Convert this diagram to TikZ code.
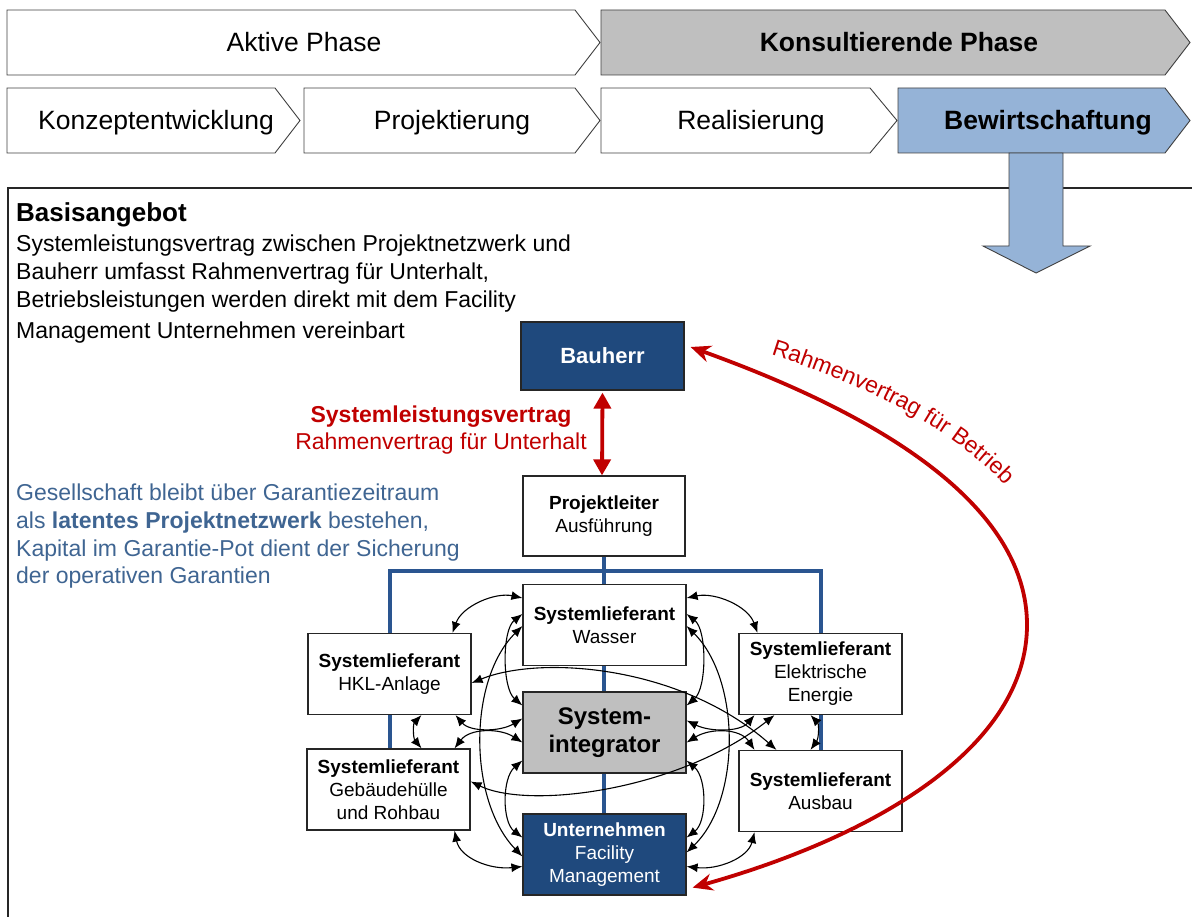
\documentclass[tikz,border=0pt]{standalone}
\usepackage{fontspec}
\setmainfont{Liberation Sans}
\usetikzlibrary{arrows.meta,calc,decorations.text}

\definecolor{darkblue}{HTML}{1F497D}
\definecolor{lineblue}{HTML}{2A5590}
\definecolor{lightblue}{HTML}{95B3D7}
\definecolor{midgrey}{HTML}{BFBFBF}
\definecolor{darkred}{HTML}{C00000}
\definecolor{noteblue}{HTML}{3F6592}
\definecolor{edge}{HTML}{404040}

\begin{document}
\begin{tikzpicture}[x=1pt,y=-1pt,
  chev/.style={draw=edge, line width=0.9pt, fill=white},
  chevtext/.style={anchor=base, inner sep=0pt, font=\fontsize{26.5}{30}\selectfont},
  chevbold/.style={chevtext, font=\fontsize{26.5}{30}\selectfont\bfseries},
  box/.style={draw=black!85, line width=1.2pt, fill=white, minimum width=163pt,
    minimum height=81pt, inner sep=0pt, align=center,
    font=\fontsize{19}{23}\selectfont},
  darkbox/.style={box, fill=darkblue, text=white},
  con/.style={{Latex[length=11pt,width=9pt]}-{Latex[length=11pt,width=9pt]},
    line width=1.1pt, black},
  redcon/.style={line width=3.8pt, darkred},
  net/.style={lineblue, line width=3.5pt},
  bodytext/.style={anchor=base west, inner sep=0pt,
    font=\fontsize{23}{28}\selectfont},
  notetext/.style={bodytext, text=noteblue}]
\useasboundingbox (0,0) rectangle (1192,917);

% phase chevrons, upper row
\draw[chev] (7,10) -- (575,10) -- (600,42.5) -- (575,75) -- (7,75) -- cycle;
\node[chevtext] (aktiv) at (304,52) {Aktive Phase};
\draw[chev, fill=midgrey] (601,10) -- (1165,10) -- (1190,42.5) -- (1165,75) -- (601,75) -- cycle;
\node[chevbold] (konsult) at (899,52) {Konsultierende Phase};

% phase chevrons, lower row
\draw[chev] (7,88) -- (275,88) -- (300,120.5) -- (275,153) -- (7,153) -- cycle;
\node[chevtext] (konzept) at (156,130) {Konzeptentwicklung};
\draw[chev] (304,88) -- (575,88) -- (600,120.5) -- (575,153) -- (304,153) -- cycle;
\node[chevtext] (projekt) at (452,130) {Projektierung};
\draw[chev] (601,88) -- (870,88) -- (897,120.5) -- (870,153) -- (601,153) -- cycle;
\node[chevtext] (real) at (751,130) {Realisierung};
\draw[chev, fill=lightblue] (898,88) -- (1165,88) -- (1190,120.5) -- (1165,153) -- (898,153) -- cycle;
\node[chevbold] (bewirt) at (1048,130) {Bewirtschaftung};

% frame of the lower panel
\draw[line width=1.2pt, black!85] (1200,188) -- (8,188) -- (8,930);

% block arrow out of the operating phase
\draw[fill=lightblue, draw=edge, line width=0.9pt]
  (1009,153) -- (1009,246) -- (983,246) -- (1036,273) -- (1090,246)
  -- (1063,246) -- (1063,153) -- cycle;

% explanatory texts
\node[bodytext, font=\fontsize{26}{30}\selectfont\bfseries] (head) at (16,222) {Basisangebot};
\node[bodytext] (l1) at (16,252) {Systemleistungsvertrag zwischen Projektnetzwerk und};
\node[bodytext] (l2) at (16,280) {Bauherr umfasst Rahmenvertrag für Unterhalt,};
\node[bodytext] (l3) at (16,308) {Betriebsleistungen werden direkt mit dem Facility};
\node[bodytext] (l4) at (16,339) {Management Unternehmen vereinbart};

\node[notetext] (n1) at (16,500) {Gesellschaft bleibt über Garantiezeitraum};
\node[notetext] (n2) at (16,528) {als \textbf{latentes Projektnetzwerk} bestehen,};
\node[notetext] (n3) at (16,556) {Kapital im Garantie-Pot dient der Sicherung};
\node[notetext] (n4) at (16,583) {der operativen Garantien};

% organisation network: connecting bus
\coordinate (busL) at (390,571);
\coordinate (busR) at (821,571);
\node[darkbox, minimum width=163pt, minimum height=68pt,
  font=\fontsize{22}{26}\selectfont\bfseries] (bau) at (602.5,356) {Bauherr};
\node[box, minimum width=162pt, minimum height=80pt] (pl) at (604,516)
  {\textbf{Projektleiter}\\Ausführung};

\draw[net] (pl.south) -- (604,814);
\draw[net] (390,790) -- (busL) -- (busR) -- (821,790);

\node[box] (was) at (604.5,625) {\textbf{Systemlieferant}\\Wasser};
\node[box, fill=midgrey, font=\fontsize{24}{28}\selectfont\bfseries] (sint) at (604.5,732.5) {System-\\integrator};
\node[darkbox] (fm) at (604.5,854.5) {\textbf{Unternehmen}\\Facility\\Management};
\node[box] (hkl) at (389.5,674) {\textbf{Systemlieferant}\\HKL-Anlage};
\node[box] (geb) at (388.5,789.5) {\textbf{Systemlieferant}\\Gebäudehülle\\und Rohbau};
\node[box] (ele) at (820.5,674) {\textbf{Systemlieferant}\\Elektrische\\Energie};
\node[box] (aus) at (820.5,791) {\textbf{Systemlieferant}\\Ausbau};

% links on the left side
\draw[con] ($(hkl.north)+(63,0)$) .. controls (462,606) and (495,592) .. ($(was.west)+(0,-27)$);
\draw[con] ($(was.west)+(0,-11)$) .. controls (502,630) and (502,688) .. ($(sint.west)+(0,-27)$);
\draw[con] ($(was.west)+(0,1)$) .. controls (468,680) and (468,800) .. ($(fm.west)+(0,2)$);
\draw[con] ($(sint.west)+(0,28)$) .. controls (502,778) and (502,822) .. ($(fm.west)+(0,-17)$);
\draw[con] ($(hkl.south)+(66,0)$) .. controls (470,732) and (500,732) .. ($(sint.west)+(0,-14)$);
\draw[con] ($(geb.north)+(66,0)$) .. controls (470,728) and (500,728) .. ($(sint.west)+(0,10)$);
\draw[con] ($(hkl.south)+(32,0)$) .. controls (413,724) and (413,738) .. ($(geb.north)+(33,0)$);
\draw[con] ($(geb.south)+(66,0)$) .. controls (460,858) and (490,870) .. ($(fm.west)+(0,12)$);

% links on the right side
\draw[con] ($(was.east)+(0,-27)$) .. controls (715,592) and (748,606) .. ($(ele.north)+(-63,0)$);
\draw[con] ($(was.east)+(0,-11)$) .. controls (707,630) and (707,688) .. ($(sint.east)+(0,-27)$);
\draw[con] ($(was.east)+(0,1)$) .. controls (741,680) and (741,800) .. ($(fm.east)+(0,-2)$);
\draw[con] ($(sint.east)+(0,28)$) .. controls (707,778) and (707,822) .. ($(fm.east)+(0,-17)$);
\draw[con] ($(ele.south)+(-66,0)$) .. controls (740,732) and (710,732) .. ($(sint.east)+(0,-12)$);
\draw[con] ($(aus.north)+(-66,0)$) .. controls (740,728) and (710,728) .. ($(sint.east)+(0,10)$);
\draw[con] ($(ele.south)+(-10,0)$) .. controls (819,724) and (819,738) .. ($(aus.north)+(-10,0)$);
\draw[con] ($(aus.south)+(-66,0)$) .. controls (748,858) and (718,870) .. ($(fm.east)+(0,12)$);

% crossing links
\draw[con] ($(hkl.east)+(0,9)$) .. controls (540,655) and (680,665) .. ($(aus.north)+(-44,0)$);
\draw[con] ($(geb.east)+(0,-8)$) .. controls (530,810) and (680,790) .. ($(ele.south)+(-46,0)$);

% contracts
\draw[redcon, {Triangle[length=16pt,width=17pt]}-{Triangle[length=16pt,width=17pt]}]
  ($(bau.south)+(0,2)$) -- ($(pl.north)+(-2,0)$);
\node[align=center, text=darkred, inner sep=0pt, font=\fontsize{23}{27}\selectfont]
  (slv) at (441,430) {\textbf{Systemleistungsvertrag}\\Rahmenvertrag für Unterhalt};

\draw[redcon, {Stealth[length=20pt,width=17pt]}-{Stealth[length=20pt,width=17pt]}]
  ($(fm.south east)+(6,-8)$) .. controls (880,835) and (1027,745) .. (1027,625)
  .. controls (1027,480) and (812,391) .. ($(bau.east)+(6,-9)$);
\path[decorate, decoration={text along path, text align=center,
    text={|\fontsize{23}{27}\selectfont\color{darkred}|Rahmenvertrag für Betrieb}}]
  (762,352) .. controls (860,382) and (955,428) .. (1012,492);
\end{tikzpicture}
\end{document}
